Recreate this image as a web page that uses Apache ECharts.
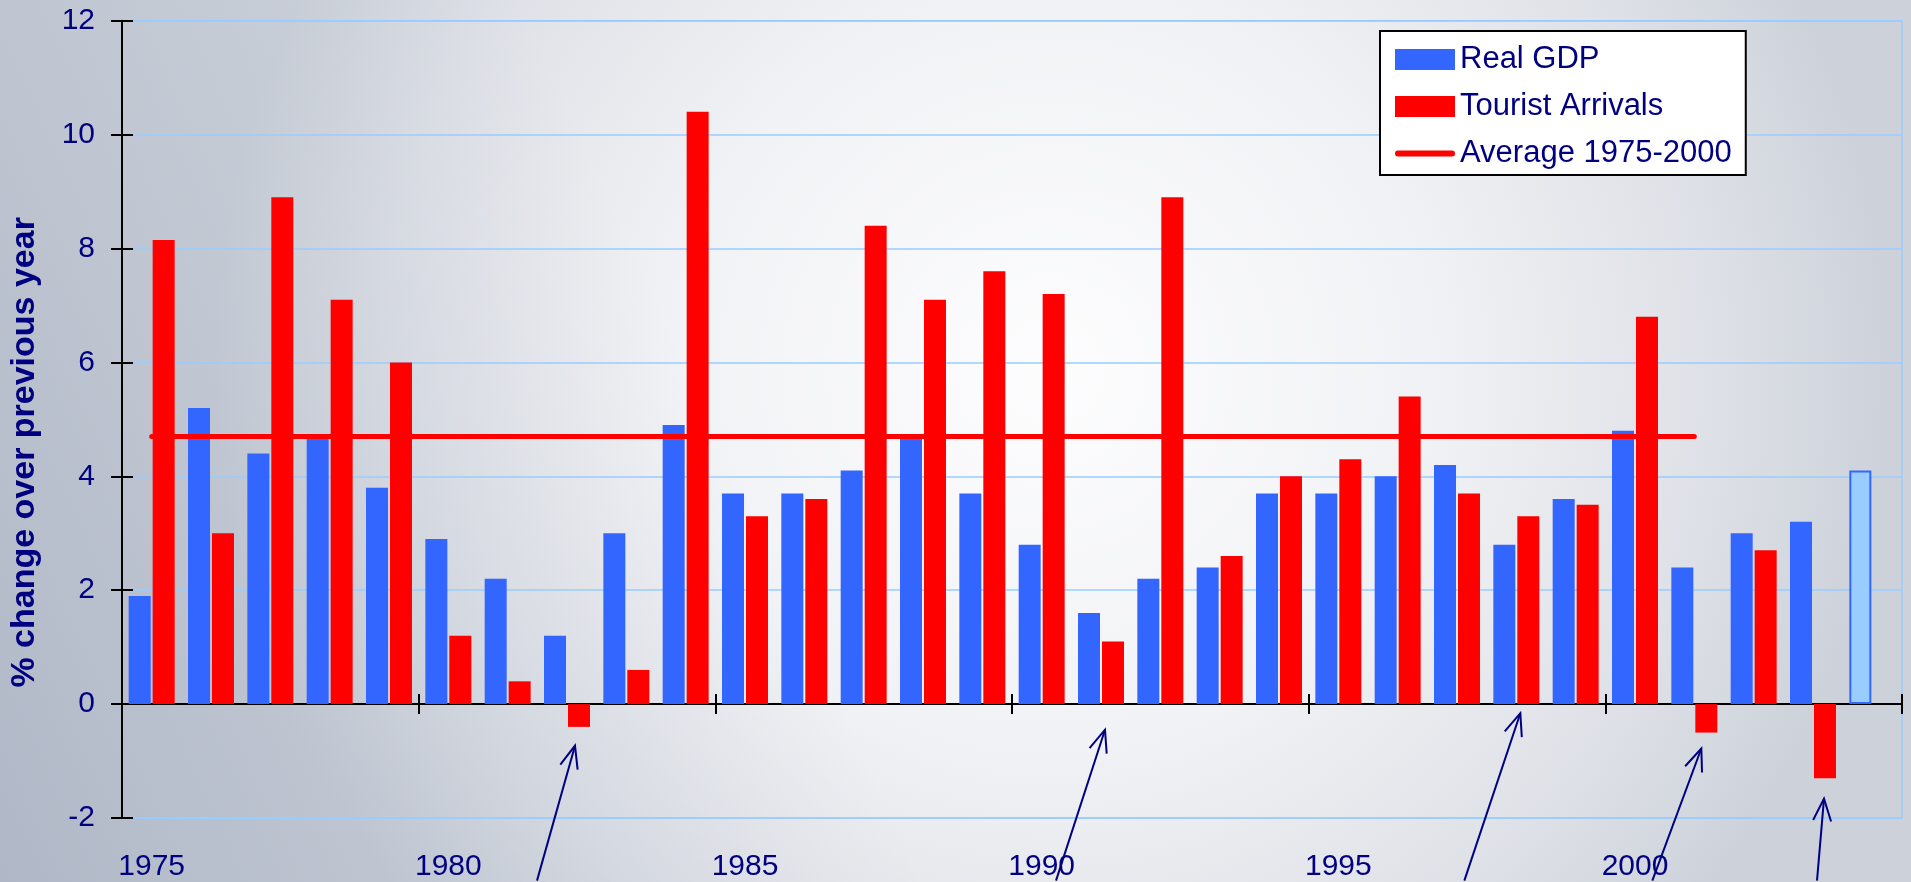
<!DOCTYPE html>
<html>
<head>
<meta charset="utf-8">
<script src="https://cdn.jsdelivr.net/npm/echarts@6/dist/echarts.min.js"></script>
<style>
html,body{margin:0;padding:0;background:#e6e8ee;}
#chart{width:1911px;height:882px;}
</style>
</head>
<body>
<div id="chart"></div>
<script>
// ---- data ----
const years = ['1975','1976','1977','1978','1979','1980','1981','1982','1983','1984',
               '1985','1986','1987','1988','1989','1990','1991','1992','1993','1994',
               '1995','1996','1997','1998','1999','2000','2001','2002','2003','2004'];
const realGDP = [1.9,5.2,4.4,4.7,3.8,2.9,2.2,1.2,3.0,4.9,
                 3.7,3.7,4.1,4.7,3.7,2.8,1.6,2.2,2.4,3.7,
                 3.7,4.0,4.2,2.8,3.6,4.8,2.4,3.0,3.2,4.1];
const touristArrivals = [8.15,3.0,8.9,7.1,6.0,1.2,0.4,-0.4,0.6,10.4,
                         3.3,3.6,8.4,7.1,7.6,7.2,1.1,8.9,2.6,4.0,
                         4.3,5.4,3.7,3.3,3.5,6.8,-0.5,2.7,-1.3,null];
const average19752000 = [4.7,4.7,4.7,4.7,4.7,4.7,4.7,4.7,4.7,4.7,
                         4.7,4.7,4.7,4.7,4.7,4.7,4.7,4.7,4.7,4.7,
                         4.7,4.7,4.7,4.7,4.7,4.7,4.7,null,null,null];
const projectedYear = '2004';
const yTicks = {min: -2, max: 12, step: 2};
const seriesNames = ['Real GDP', 'Tourist Arrivals', 'Average 1975-2000'];
const yTitle = '% change over previous year';
// annotation arrows (anchored in data space: year + value)
const arrowNotes = [
  {year: '1982', tipValue: -0.73, tailValue: -3.1},
  {year: '1991', tipValue: -0.45, tailValue: -3.1},
  {year: '1998', tipValue: -0.16, tailValue: -3.1},
  {year: '2001', tipValue: -0.78, tailValue: -3.1},
  {year: '2003', tipValue: -1.66, tailValue: -3.1}
];
// ---- layout / style (not data) ----
const arrowShift = [[8, -30], [4, -45], [4, -52], [7, -42], [11, 4]];
const NAVY = '#000080';
const FONT = "'Liberation Sans', Arial, Helvetica, sans-serif";
const LINE_ICON = 'path://M3,0 L57,0 A3,3 0 0 1 57,6 L3,6 A3,3 0 0 1 3,0 Z';

const chart = echarts.init(document.getElementById('chart'), null, {renderer: 'canvas'});

const gdpData = realGDP.map((v, i) => years[i] === projectedYear
  ? {value: v, itemStyle: {color: '#99CCFF', borderColor: '#3366FF', borderWidth: 2}}
  : v);

const option = {
  animation: false,
  backgroundColor: {
    type: 'radial', x: 0.55, y: 0.42, r: 0.95,
    colorStops: [
      {offset: 0, color: '#FDFDFE'},
      {offset: 0.45, color: '#F1F2F5'},
      {offset: 0.8, color: '#DDE0E6'},
      {offset: 1, color: '#CDD2DA'}
    ]
  },
  textStyle: {fontFamily: FONT},
  grid: {
    left: 120, right: 9, top: 20.7, bottom: 62.6,
    show: true, borderColor: '#99CCFF', borderWidth: 1.5, backgroundColor: 'transparent'
  },
  legend: {
    orient: 'vertical', left: 1380, top: 31,
    data: [
      {name: seriesNames[0], icon: 'rect'},
      {name: seriesNames[1], icon: 'rect'},
      {name: seriesNames[2], icon: LINE_ICON}
    ],
    itemWidth: 60, itemHeight: 21, itemGap: 16,
    padding: [13, 14, 6, 15],
    backgroundColor: '#FFFFFF', borderColor: '#000000', borderWidth: 2,
    textStyle: {color: NAVY, fontSize: 31, lineHeight: 31, fontFamily: FONT}
  },
  xAxis: [
    { // axis line at zero with downward ticks
      type: 'category', data: years, position: 'bottom',
      axisLine: {show: true, onZero: true, lineStyle: {color: '#000', width: 2}},
      axisTick: {show: true, interval: 4, length: 10, lineStyle: {color: '#000', width: 2}},
      axisLabel: {show: false}, splitLine: {show: false}
    },
    { // labels at bottom
      type: 'category', data: years, position: 'bottom',
      axisLine: {show: false, onZero: false},
      axisTick: {show: false},
      axisLabel: {show: true, interval: 4, color: NAVY, fontSize: 30, fontFamily: FONT, margin: 34},
      splitLine: {show: false}
    },
    { // upward half of crossing ticks
      type: 'category', data: years, position: 'bottom',
      axisLine: {show: false, onZero: true, onZeroAxisIndex: 0},
      axisTick: {show: true, inside: true, interval: 4, length: 10, lineStyle: {color: '#000', width: 2}},
      axisLabel: {show: false}, splitLine: {show: false}
    }
  ],
  yAxis: [
    {
      type: 'value', min: yTicks.min, max: yTicks.max, interval: yTicks.step, position: 'left',
      axisLine: {show: true, onZero: false, lineStyle: {color: '#000', width: 2}},
      axisTick: {show: true, length: 11, lineStyle: {color: '#000', width: 2}},
      axisLabel: {color: NAVY, fontSize: 30, fontFamily: FONT, margin: 27},
      splitLine: {show: true, lineStyle: {color: '#99CCFF', width: 1.5}},
      name: yTitle, nameLocation: 'middle', nameRotate: 90, nameGap: 80,
      nameTextStyle: {color: NAVY, fontSize: 34, fontWeight: 'bold', fontFamily: FONT, padding: [0, 66, 0, 0]}
    },
    {
      type: 'value', min: yTicks.min, max: yTicks.max, interval: yTicks.step, position: 'left',
      axisLine: {show: false, onZero: false},
      axisTick: {show: true, inside: true, length: 11, lineStyle: {color: '#000', width: 2}},
      axisLabel: {show: false}, splitLine: {show: false}
    }
  ],
  series: [
    {
      name: seriesNames[0], type: 'bar', xAxisIndex: 0, yAxisIndex: 0,
      data: gdpData, barWidth: 22, barGap: '9%',
      itemStyle: {color: '#3366FF'}, z: 2
    },
    {
      name: seriesNames[1], type: 'bar', xAxisIndex: 0, yAxisIndex: 0,
      data: touristArrivals, barWidth: 22, barGap: '9%',
      itemStyle: {color: '#FF0000'}, z: 2
    },
    {
      name: seriesNames[2], type: 'line', xAxisIndex: 0, yAxisIndex: 0,
      data: average19752000, symbol: 'none', showSymbol: false,
      lineStyle: {color: '#FF0000', width: 5, cap: 'round'},
      itemStyle: {color: '#FF0000'}, z: 4
    }
  ]
};
chart.setOption(option);

// background shading + annotation arrows, positioned through the chart's own scales
function arrowGroup(tip, tail) {
  const dx = tail[0] - tip[0], dy = tail[1] - tip[1];
  const len = Math.sqrt(dx * dx + dy * dy);
  const ux = dx / len, uy = dy / len;
  const headLen = 24, ang = 22 * Math.PI / 180;
  const rot = (a) => [tip[0] + headLen * (ux * Math.cos(a) - uy * Math.sin(a)),
                      tip[1] + headLen * (ux * Math.sin(a) + uy * Math.cos(a))];
  return {
    type: 'group', silent: true, z: 10,
    children: [
      {type: 'polyline', shape: {points: [tail, tip]}, style: {stroke: NAVY, lineWidth: 2, fill: null}, z: 10},
      {type: 'polyline', shape: {points: [rot(ang), tip, rot(-ang)]}, style: {stroke: NAVY, lineWidth: 2, fill: null}, z: 10}
    ]
  };
}
const finder = {xAxisIndex: 0, yAxisIndex: 0};
const graphics = [
  {
    type: 'rect', silent: true, z: -10, left: 0, top: 0,
    shape: {x: 0, y: 0, width: 1911, height: 882},
    style: {fill: {type: 'linear', x: 1, y: 0, x2: 0, y2: 1,
      colorStops: [{offset: 0, color: 'rgba(150,160,180,0)'}, {offset: 0.6, color: 'rgba(150,160,180,0)'},
                   {offset: 1, color: 'rgba(120,135,165,0.35)'}]}}
  }
];
arrowNotes.forEach((a, i) => {
  const idx = years.indexOf(a.year);
  const tipP = chart.convertToPixel(finder, [idx, a.tipValue]);
  const tailP = chart.convertToPixel(finder, [idx, a.tailValue]);
  graphics.push(arrowGroup([tipP[0] + arrowShift[i][0], tipP[1]], [tailP[0] + arrowShift[i][1], tailP[1]]));
});
chart.setOption({graphic: graphics});
</script>
</body>
</html>
